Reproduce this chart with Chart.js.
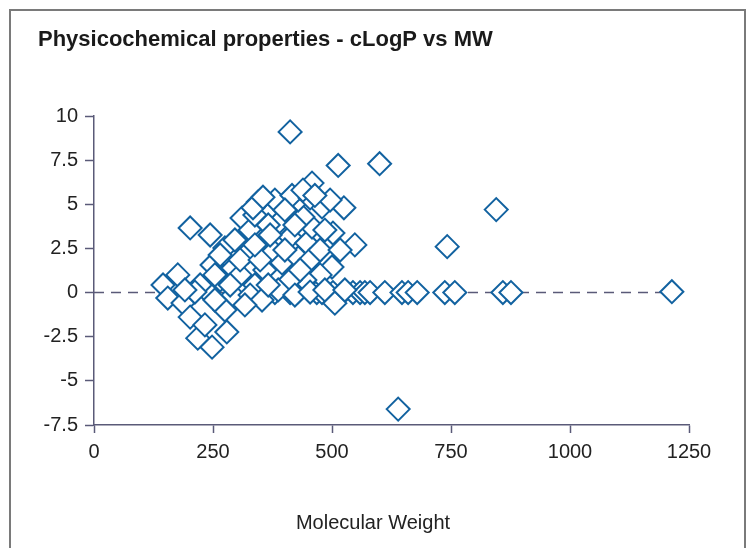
<!DOCTYPE html>
<html><head><meta charset="utf-8">
<script src="https://cdn.jsdelivr.net/npm/chart.js@4.4.1/dist/chart.umd.min.js"></script>
<style>html,body{margin:0;padding:0;background:#fff;}</style>
</head><body>
<canvas id="c" width="749" height="548"></canvas>
<script>
// Molecular weight (x) and cLogP (y) per compound
const molecularWeight = [
  412, 513, 600, 458, 525, 548, 742, 845, 639, 1214,
  380, 412, 429, 468, 479, 502, 523, 544, 559, 569, 580, 611, 647, 660, 679, 737, 758, 859, 876, 506,
  145, 176, 155, 187, 202, 218, 248, 279, 233, 202, 244, 248, 239, 292, 292, 275, 311, 345, 324, 380,
  387, 412, 447, 458, 439, 429, 479, 502, 374, 395, 429, 500, 416, 223, 265, 307, 338, 359, 328, 353,
  317, 275, 254, 212, 296, 328, 353, 366, 338, 401, 422, 454, 475, 475, 443, 412, 387, 366, 422, 454,
  485, 433, 401, 307, 265, 286, 349, 527, 517, 485, 454, 496, 439, 464, 370, 338, 254, 191, 334, 355
];
const cLogP = [
  9.1, 7.2, 7.3, 6.2, 4.8, 2.7, 2.6, 4.7, -6.6, 0.05,
  0, 0, 0.05, 0, 0, 0, 0, 0, 0, 0, 0, 0, 0, 0, 0, 0, 0, 0, 0, -0.6,
  0.43, 1.0, -0.31, -0.59, -1.39, -2.58, -3.09, -2.23, -1.83, 3.66, 3.26, 1.56, 0.03, 1.39, -0.14, 2.53, 4.22, 5.13, 2.3, 5.24,
  3.94, 3.15, 2.81, 3.71, 4.28, 5.24, 4.85, 3.37, 2.41, 1.68, 1.96, 1.45, 5.5, 0.43, 0.71, 1.0, 0.43, 1.28, -0.14, -0.42,
  -0.7, -0.99, -0.42, 0.03, 2.98, 3.54, 2.98, 3.83, 4.39, 4.68, 3.83, 1.85, 2.41, 1.0, 0.71, 0.71, 0.15, 0.43, -0.14, 0.03,
  0.15, 1.28, 2.41, 1.85, 2.13, 0.43, 1.85, 0.15, 2.41, 3.54, 5.36, 5.24, 5.8, 5.5, 3.26, 2.7, 1.0, 0.15, 4.8, 5.4
];
const xTicks = [0, 250, 500, 750, 1000, 1250];
const yTicks = [-7.5, -5, -2.5, 0, 2.5, 5, 7.5, 10];
const zeroLineX = [0, 1250];
const zeroLineY = [0, 0];
const chartTitle = 'Physicochemical properties - cLogP vs MW';
const xAxisTitle = 'Molecular Weight';

const axisColor = '#5a5a78';
const markColor = '#1262a0';
const textColor = '#222222';
const fam = '"Liberation Sans", Arial, sans-serif';

const framePlugin = {
  id: 'frame',
  beforeDraw(chart) {
    const ctx = chart.ctx;
    ctx.save();
    ctx.fillStyle = '#ffffff';
    ctx.fillRect(0, 0, chart.width, chart.height);
    ctx.strokeStyle = '#7a7a7a';
    ctx.lineWidth = 2;
    ctx.strokeRect(10, 10, 735, 600);
    ctx.restore();
  },
  afterDraw(chart) {
    const ctx = chart.ctx;
    ctx.save();
    ctx.fillStyle = textColor;
    ctx.font = '20px ' + fam;
    ctx.textAlign = 'center';
    ctx.textBaseline = 'middle';
    ctx.fillText(xAxisTitle, 373, 523);
    ctx.restore();
  }
};

new Chart(document.getElementById('c'), {
  data: {
    datasets: [
      {
        type: 'scatter',
        data: molecularWeight.map((m, i) => ({ x: m, y: cLogP[i] })),
        pointStyle: 'rectRot',
        pointRadius: 11.5,
        pointHoverRadius: 11.5,
        borderColor: markColor,
        backgroundColor: '#ffffff',
        borderWidth: 2,
        order: 1
      },
      {
        type: 'line',
        data: zeroLineX.map((x, i) => ({ x: x, y: zeroLineY[i] })),
        borderColor: axisColor,
        borderWidth: 1.5,
        borderDash: [10, 7],
        pointRadius: 0,
        fill: false,
        order: 2
      }
    ]
  },
  options: {
    responsive: false,
    animation: false,
    layout: { padding: { left: 38, top: 27, right: 60, bottom: 0 } },
    plugins: {
      legend: { display: false },
      tooltip: { enabled: false },
      title: {
        display: true,
        text: chartTitle,
        align: 'start',
        color: '#1a1a1a',
        font: { family: fam, size: 22, weight: 'bold' },
        padding: { top: 0, bottom: 62.6 }
      }
    },
    scales: {
      x: {
        type: 'linear',
        min: 0, max: 1250,
        afterBuildTicks: s => { s.ticks = xTicks.map(v => ({ value: v })); },
        afterFit: s => { s.height = 123; },
        ticks: { color: textColor, font: { family: fam, size: 20 }, padding: 7, maxRotation: 0,
                 callback: v => String(v) },
        grid: { drawOnChartArea: false, color: axisColor, tickLength: 8, tickWidth: 1.5 },
        border: { color: axisColor, width: 1.5 }
      },
      y: {
        type: 'linear',
        min: -7.5, max: 10,
        afterBuildTicks: s => { s.ticks = yTicks.map(v => ({ value: v })); },
        afterFit: s => { s.width = 56; },
        ticks: { color: textColor, font: { family: fam, size: 20 }, padding: 7,
                 callback: v => String(v) },
        grid: { drawOnChartArea: false, color: axisColor, tickLength: 9, tickWidth: 1.5 },
        border: { color: axisColor, width: 1.5 }
      }
    }
  },
  plugins: [framePlugin]
});
</script>
</body></html>
